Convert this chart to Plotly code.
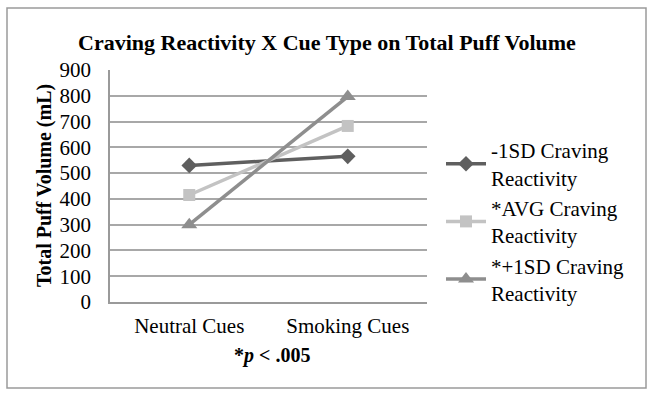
import plotly.graph_objects as go

categories = ["Neutral Cues", "Smoking Cues"]
series_names = ["-1SD Craving<br>Reactivity", "*AVG Craving<br>Reactivity", "*+1SD Craving<br>Reactivity"]
minus1sd = [530, 565]
avg = [415, 683]
plus1sd = [300, 797]
y_ticks = [0, 100, 200, 300, 400, 500, 600, 700, 800, 900]

colors = ["#5f5f5f", "#c3c3c3", "#8e8e8e"]
symbols = ["diamond", "square", "triangle-up"]
sizes = [12, 12, 14]

FONT = "Liberation Serif, Times New Roman, serif"

fig = go.Figure()
for name, vals, c, s, sz in zip(series_names, [minus1sd, avg, plus1sd], colors, symbols, sizes):
    fig.add_trace(go.Scatter(
        x=[0, 1], y=vals, name=name, mode="lines+markers",
        line=dict(color=c, width=3.5),
        marker=dict(symbol=s, size=sz, color=c),
    ))

L, R, T, B = 110, 227, 70, 97
W, H = 654, 399
pw, ph = W - L - R, H - T - B

def px(x):
    return (x - L) / pw

def py(y):
    return (H - B - y) / ph

fig.update_layout(
    width=W, height=H,
    margin=dict(l=L, r=R, t=T, b=B),
    paper_bgcolor="white", plot_bgcolor="white",
    font=dict(family=FONT, size=21, color="black"),
    showlegend=True,
    legend=dict(x=px(441), y=py(130), xanchor="left", yanchor="top",
                font=dict(size=21, family=FONT), itemwidth=40,
                bgcolor="rgba(0,0,0,0)"),
    xaxis=dict(range=[-0.5, 1.5], tickvals=[0, 1], ticktext=categories,
               showgrid=False, showline=True, linecolor="#9a9a9a", linewidth=1.5,
               zeroline=False, ticks="", ticklabelstandoff=4,
               tickfont=dict(size=21, family=FONT)),
    yaxis=dict(range=[0, 900], tickvals=y_ticks, showgrid=True, gridcolor="#a8a8a8",
               gridwidth=1.5, showline=True, linecolor="#9a9a9a", linewidth=1.5,
               zeroline=False, ticks="", ticklabelstandoff=13,
               tickfont=dict(size=21, family=FONT)),
    annotations=[
        dict(text="<b>Craving Reactivity X Cue Type on Total Puff Volume</b>",
             xref="paper", yref="paper", x=px(327), y=py(42), showarrow=False,
             font=dict(size=22, family=FONT), xanchor="center", yanchor="middle"),
        dict(text="<b>Total Puff Volume (mL)</b>", textangle=-90,
             xref="paper", yref="paper", x=px(44), y=py(186), showarrow=False,
             font=dict(size=20, family=FONT), xanchor="center", yanchor="middle"),
        dict(text="<b>*<i>p</i> &lt; .005</b>",
             xref="paper", yref="paper", x=px(272), y=py(355), showarrow=False,
             font=dict(size=20, family=FONT), xanchor="center", yanchor="middle"),
    ],
    shapes=[
        dict(type="rect", xref="paper", yref="paper",
             x0=px(7), x1=px(646), y0=py(388), y1=py(8),
             line=dict(color="#9a9a9a", width=1.5), fillcolor="rgba(0,0,0,0)", layer="below"),
    ],
)

fig.write_html("out.html", config={"displayModeBar": False},
               post_script="document.body.style.margin='0px';")
